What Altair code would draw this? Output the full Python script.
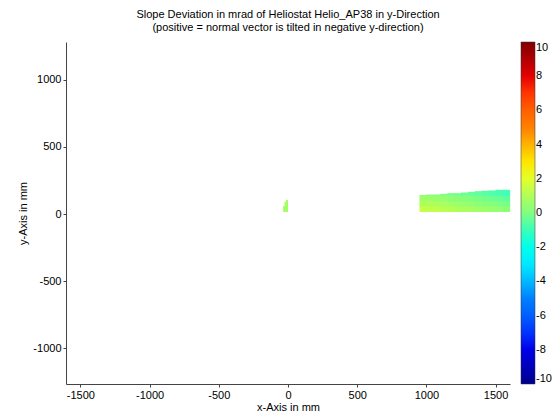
import altair as alt
import pandas as pd

# ---- data ----
# main patch: column edges (mm) and top edge height per column (mm)
main_x_edges = [950, 1000, 1050, 1100, 1150, 1200, 1250, 1300, 1350, 1400, 1450, 1500, 1550, 1600]
main_top = [135, 140, 140, 145, 150, 150, 155, 160, 165, 168, 170, 175, 175]
row_edges = [15, 55, 95, 135]  # lower edges of the row bands, last band goes up to main_top
# slope deviation (mrad), rows bottom -> top, columns left -> right
row0 = [1.4, 1.3, 1.3, 1.2, 1.1, 1.0, 0.9, 0.8, 0.7, 0.6, 0.5, 0.4, 0.3]
row1 = [1.0, 1.0, 0.9, 0.8, 0.7, 0.6, 0.5, 0.4, 0.3, 0.2, 0.1, 0.0, -0.1]
row2 = [0.6, 0.6, 0.5, 0.4, 0.3, 0.2, 0.1, 0.0, -0.1, -0.2, -0.3, -0.4, -0.5]
row3 = [0.2, 0.2, 0.1, 0.0, -0.1, -0.2, -0.3, -0.4, -0.5, -0.6, -0.7, -0.8, -0.9]

# small patch near x = 0
blob_x0 = [-35, -25, -15]
blob_x1 = [-25, -15, -5]
blob_y0 = [15, 15, 15]
blob_y1 = [55, 85, 100]
blob_val = [0.6, 0.8, 0.7]

x_ticks = [-1500, -1000, -500, 0, 500, 1000, 1500]
y_ticks = [-1000, -500, 0, 500, 1000]
cbar_ticks = [-10, -8, -6, -4, -2, 0, 2, 4, 6, 8, 10]

jet_domain = [-10, -7.5, -5, -2.5, 0, 2.5, 5, 7.5, 10]
jet_colors = ["#00008f", "#0000ff", "#0080ff", "#00ffff", "#80ff80",
              "#ffff00", "#ff8000", "#ff0000", "#800000"]

rows = [row0, row1, row2, row3]
recs = []
for r, vals in enumerate(rows):
    for c, v in enumerate(vals):
        y0 = row_edges[r]
        y1 = row_edges[r + 1] if r + 1 < len(row_edges) else main_top[c]
        recs.append(dict(x0=main_x_edges[c], x1=main_x_edges[c + 1], y0=y0, y1=y1, v=v))
for a, b, c0, c1, v in zip(blob_x0, blob_x1, blob_y0, blob_y1, blob_val):
    recs.append(dict(x0=a, x1=b, y0=c0, y1=c1, v=v))
df = pd.DataFrame(recs)

FONT = "Liberation Sans"
LBL = "'' + datum.value"

jet = alt.Scale(domain=jet_domain, range=jet_colors, clamp=True)

chart = alt.Chart(df).mark_rect(x2Offset=0.7, y2Offset=-0.7).encode(
    x=alt.X("x0:Q", scale=alt.Scale(domain=[-1604, 1604], nice=False, zero=False),
            axis=alt.Axis(values=x_ticks, title="x-Axis in mm", grid=False, labelExpr=LBL,
                          tickSize=3, labelPadding=2, titlePadding=1)),
    x2="x1:Q",
    y=alt.Y("y0:Q", scale=alt.Scale(domain=[-1265, 1280], nice=False, zero=False),
            axis=alt.Axis(values=y_ticks, title="y-Axis in mm", grid=False, labelExpr=LBL,
                          tickSize=3, labelPadding=2, titlePadding=4)),
    y2="y1:Q",
    color=alt.Color("v:Q", scale=jet,
                    legend=alt.Legend(title=None, orient="none", legendX=455, legendY=0,
                                      direction="vertical", gradientLength=342,
                                      gradientThickness=14, values=cbar_ticks,
                                      labelExpr=LBL,
                                      labelFontSize=11, labelFont=FONT, labelColor="black",
                                      labelOffset=1, gradientStrokeColor="#333333",
                                      gradientStrokeWidth=0.5)),
).properties(
    width=444,
    height=342,
    title=alt.TitleParams(
        ["Slope Deviation in mrad of Heliostat Helio_AP38 in y-Direction",
         "(positive = normal vector is tilted in negative y-direction)"],
        fontSize=11, fontWeight="normal", font=FONT, color="black",
        anchor="middle", offset=9, lineHeight=13),
    autosize=alt.AutoSizeParams(type="none"),
    padding={"left": 58, "top": 34, "right": 42, "bottom": 30},
).configure_view(stroke=None).configure_axis(
    labelFont=FONT, titleFont=FONT, labelFontSize=11, titleFontSize=11,
    titleFontWeight="normal", labelColor="black", titleColor="black",
    domainColor="#444444", tickColor="#444444",
)

chart.save("out.html", embed_options={"renderer": "svg", "actions": False})
